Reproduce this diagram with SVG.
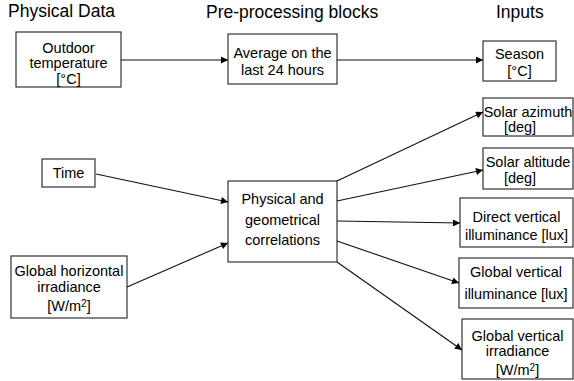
<svg xmlns="http://www.w3.org/2000/svg" width="574" height="381" viewBox="0 0 574 381">
<defs>
<marker id="arr" viewBox="0 0 10 10" refX="10" refY="5" markerWidth="9" markerHeight="7" markerUnits="userSpaceOnUse" orient="auto">
<path d="M0,0 L10,5 L0,10 z" fill="#000"/>
</marker>
</defs>
<style>
rect{fill:#fff;stroke:#333;stroke-width:1.2}
text{font-family:"Liberation Sans",Arial,sans-serif;fill:#000}
.t{font-size:17.5px}
.b{font-size:14.5px;text-anchor:middle}
.c line{stroke:#111;stroke-width:1.1;marker-end:url(#arr)}
</style>
<rect x="0" y="0" width="574" height="381" style="fill:#fff;stroke:none"/>
<g id="titles">
<text class="t" x="8" y="17">Physical Data</text>
<text class="t" x="206" y="18">Pre-processing blocks</text>
<text class="t" x="496" y="18">Inputs</text>
</g>
<g id="outdoor">
<rect x="16" y="32" width="105" height="55"/>
<text class="b" x="68.5" y="53">Outdoor</text>
<text class="b" x="68.5" y="68">temperature</text>
<text class="b" x="68.5" y="84">[°C]</text>
</g>
<g id="average">
<rect x="228" y="34" width="109" height="50"/>
<text class="b" x="282.5" y="58">Average on the</text>
<text class="b" x="282.5" y="75">last 24 hours</text>
</g>
<g id="season">
<rect x="483" y="41" width="73" height="40"/>
<text class="b" x="519.5" y="59">Season</text>
<text class="b" x="519.5" y="76">[°C]</text>
</g>
<g id="time">
<rect x="42" y="159" width="53" height="28"/>
<text class="b" x="68.5" y="178">Time</text>
</g>
<g id="ghi">
<rect x="11" y="256" width="116" height="62"/>
<text class="b" x="69" y="276">Global horizontal</text>
<text class="b" x="69" y="292">irradiance</text>
<text class="b" x="69" y="311">[W/m<tspan font-size="10" dy="-4">2</tspan><tspan dy="4">]</tspan></text>
</g>
<g id="correlations">
<rect x="228" y="181" width="109" height="81"/>
<text class="b" x="282.5" y="204">Physical and</text>
<text class="b" x="282.5" y="225">geometrical</text>
<text class="b" x="282.5" y="245">correlations</text>
</g>
<g id="azimuth">
<rect x="483" y="98" width="90" height="38"/>
<text class="b" x="528" y="117">Solar azimuth</text>
<text class="b" x="520" y="132">[deg]</text>
</g>
<g id="altitude">
<rect x="483" y="148" width="90" height="41"/>
<text class="b" x="528" y="167">Solar altitude</text>
<text class="b" x="520" y="183">[deg]</text>
</g>
<g id="direct">
<rect x="460" y="198" width="113" height="49"/>
<text class="b" x="516.5" y="222">Direct vertical</text>
<text class="b" x="516.5" y="240">illuminance [lux]</text>
</g>
<g id="gvillum">
<rect x="459" y="258" width="114" height="50"/>
<text class="b" x="516" y="277">Global vertical</text>
<text class="b" x="516" y="299">illuminance [lux]</text>
</g>
<g id="gvirrad">
<rect x="462" y="319" width="111" height="60"/>
<text class="b" x="517.5" y="341">Global vertical</text>
<text class="b" x="517.5" y="356">irradiance</text>
<text class="b" x="517.5" y="375">[W/m<tspan font-size="10" dy="-4">2</tspan><tspan dy="4">]</tspan></text>
</g>
<g id="connectors" class="c">
<line x1="121" y1="60" x2="228" y2="60"/>
<line x1="337" y1="60" x2="483" y2="60"/>
<line x1="96" y1="174" x2="228" y2="202"/>
<line x1="127" y1="287" x2="228" y2="243"/>
<line x1="337" y1="181" x2="483" y2="112"/>
<line x1="337" y1="201" x2="483" y2="170"/>
<line x1="337" y1="221" x2="460" y2="223"/>
<line x1="337" y1="241" x2="459" y2="283"/>
<line x1="337" y1="262" x2="462" y2="350"/>
</g>
</svg>
